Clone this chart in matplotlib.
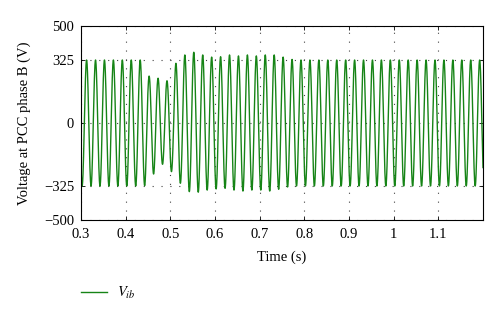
import matplotlib
matplotlib.use('Agg')
import matplotlib.pyplot as plt
import numpy as np

matplotlib.rcParams['font.family'] = ['Liberation Serif', 'DejaVu Serif']
matplotlib.rcParams['mathtext.fontset'] = 'stix'
matplotlib.rcParams['axes.unicode_minus'] = True

# 50 Hz phase B voltage, peak values per half cycle
f_grid = 50.0
first_peak = 0.3125     # time of the first positive peak (s)
first_trough = 0.3025   # time of the first negative peak (s)

# positive peaks at first_peak + 0.02*k
pos_peaks = [325, 325, 325, 325, 325, 325, 325,
             242, 231, 218, 308, 351, 365, 351, 340, 342, 351, 346, 351,
             346, 351, 351, 340, 328] + [325] * 21
# negative peaks at first_trough + 0.02*j
neg_peaks = [-325, -325, -325, -325, -325, -325, -325, -323,
             -263, -213, -251, -311, -354, -357, -346, -340, -337, -346,
             -351, -346, -346, -351, -342, -330] + [-325] * 22

xticks = [0.3, 0.4, 0.5, 0.6, 0.7, 0.8, 0.9, 1.0, 1.1]
xtick_labels = ['0.3', '0.4', '0.5', '0.6', '0.7', '0.8', '0.9', '1', '1.1']
yticks = [-500, -325, 0, 325, 500]

# build waveform: sine carrier with the read half-cycle amplitudes
t = np.linspace(0.3, 1.2, 9000)
half = np.floor((t - (first_trough - 0.005)) * 2 * f_grid).astype(int)
carrier = np.cos(2 * np.pi * f_grid * (t - first_peak))
pos = np.array(pos_peaks, dtype=float)
neg = np.array(neg_peaks, dtype=float)
amp = np.where(half % 2 == 1,
               pos[np.clip((half - 1) // 2, 0, len(pos) - 1)],
               -neg[np.clip(half // 2, 0, len(neg) - 1)])
v = amp * carrier

fig = plt.figure(figsize=(5, 3.22), dpi=100)
ax = fig.add_axes([0.162, 0.317, 0.804, 0.602])
line, = ax.plot(t, v, color='#168416', linewidth=1.0)

ax.set_xlim(0.3, 1.2)
ax.set_ylim(-500, 500)
ax.set_xticks(xticks)
ax.set_xticklabels(xtick_labels)
ax.set_yticks(yticks)
ax.set_yticklabels(['\u2212500', '\u2212325', '0', '325', '500'])
ax.tick_params(direction='in', top=True, right=True, labelsize=10.5, length=3, width=0.6)
ax.tick_params(axis='x', pad=6)
ax.tick_params(axis='y', pad=5)
ax.grid(True, linestyle=(0, (1, 7)), color='#444444', linewidth=0.8)
for s in ax.spines.values():
    s.set_linewidth(0.8)

ax.set_xlabel('Time (s)', fontsize=10.5, labelpad=7)
ax.set_ylabel('Voltage at PCC phase B (V)', fontsize=10.5, labelpad=9)

fig.legend([line], ['$V_{ib}$'], loc='center left', bbox_to_anchor=(0.135, 0.09),
           frameon=False, fontsize=10.5, handlelength=1.8, handletextpad=0.7)

fig.savefig('out.png', dpi=100)
